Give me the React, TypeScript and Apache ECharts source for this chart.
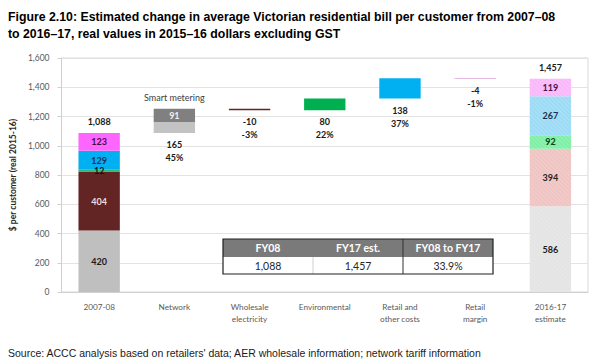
import React, { useEffect, useRef } from 'react';
import * as echarts from 'echarts';

const categories = ['2007-08', 'Network', 'Wholesale\nelectricity', 'Environmental', 'Retail and\nother costs', 'Retail\nmargin', '2016-17\nestimate'];
const baseValues = [0, 1088, 1243, 1243, 1323, 1457, 0];
const networkValues = [420, 74, null, null, null, null, 586];
const smartMeteringValues = [null, 91, null, null, null, null, null];
const wholesaleValues = [404, null, 10, null, null, null, 394];
const environmentalValues = [12, null, null, 80, null, null, 92];
const retailValues = [129, null, null, null, 138, null, 267];
const marginValues = [123, null, null, null, null, 4, 119];
const changeLabels = ['', '165', '-10', '80', '138', '-4', ''];
const changeShares = ['', '45%', '-3%', '22%', '37%', '-1%', ''];
const topLabels = ['1,088', 'Smart metering', '', '', '', '', '1,457'];
const tableHeaders = ['FY08', 'FY17 est.', 'FY08 to FY17'];
const tableValues = ['1,088', '1,457', '33.9%'];

const titleText = 'Figure 2.10: Estimated change in average Victorian residential bill per customer from 2007\u201308\nto 2016\u201317, real values in 2015\u201316 dollars excluding GST';
const sourceText = "Source: ACCC analysis based on retailers' data; AER wholesale information; network tariff information";

const LABEL_FONT = 'Lato, "Open Sans", sans-serif';

const hatch = {
  symbol: 'rect',
  symbolSize: 1,
  dashArrayX: [1, 0],
  dashArrayY: [1, 2],
  rotation: Math.PI / 4,
  color: 'rgba(255,255,255,0.16)',
};

function segmentData(values: (number | null)[], colors: string[], labelColors: string[]) {
  return values.map((v, i) => {
    if (v === null) return '-';
    return {
      value: v,
      itemStyle: i === 6 ? { color: colors[i], decal: hatch } : { color: colors[i] },
      label: {
        show: i === 0 || i === 6,
        position: 'inside',
        color: labelColors[i],
        fontFamily: LABEL_FONT,
        fontWeight: 'bold',
        fontSize: 9,
      },
    };
  });
}

export default function App() {
  const ref = useRef<HTMLDivElement>(null);
  useEffect(() => {
    if (!ref.current) return;
    const chart = echarts.init(ref.current, null, { renderer: 'svg' });
    const stackName = 'w';
    const barCommon = { type: 'bar', stack: stackName, barCategoryGap: '45%' };

    const tx = 223, ty = 239, cw = 90, h1 = 18, h2 = 17;
    const tableEls: any[] = [
      { type: 'rect', z: 100, shape: { x: tx, y: ty, width: cw * 3, height: h1 }, style: { fill: '#7a7a7a' } },
      { type: 'rect', z: 100, shape: { x: tx, y: ty + h1, width: cw * 3, height: h2 }, style: { fill: '#ffffff' } },
      { type: 'line', z: 101, shape: { x1: tx + cw, y1: ty + h1, x2: tx + cw, y2: ty + h1 + h2 }, style: { stroke: '#d0d0d0', lineWidth: 1 } },
      { type: 'line', z: 101, shape: { x1: tx + 2 * cw, y1: ty, x2: tx + 2 * cw, y2: ty + h1 + h2 }, style: { stroke: '#303030', lineWidth: 1 } },
      { type: 'rect', z: 102, shape: { x: tx, y: ty, width: cw * 3, height: h1 + h2 }, style: { fill: 'none', stroke: '#202020', lineWidth: 1.2 } },
    ];
    tableHeaders.forEach((t, i) => {
      tableEls.push({ type: 'text', z: 103, x: tx + cw * i + cw / 2, y: ty + h1 / 2, style: { text: t, fill: '#ffffff', font: 'bold 10.5px ' + LABEL_FONT, align: 'center', verticalAlign: 'middle' } });
    });
    tableValues.forEach((t, i) => {
      tableEls.push({ type: 'text', z: 103, x: tx + cw * i + cw / 2, y: ty + h1 + h2 / 2 + 0.5, style: { text: t, fill: '#262626', font: '10.5px ' + LABEL_FONT, align: 'center', verticalAlign: 'middle' } });
    });

    chart.setOption({
      animation: false,
      backgroundColor: '#ffffff',
      title: [
        { text: titleText, left: 3, top: 3, textStyle: { fontFamily: '"Liberation Sans", Arial, sans-serif', fontWeight: 'bold', fontSize: 12.3, lineHeight: 17, color: '#000000' } },
        { text: sourceText, left: 3, top: 342, textStyle: { fontFamily: '"Liberation Sans", Arial, sans-serif', fontWeight: 'normal', fontSize: 10.5, color: '#1a1a1a' } },
      ],
      grid: { left: 61, right: 12, top: 58, bottom: 71, show: true, borderColor: '#d9d9d9', borderWidth: 1 },
      xAxis: {
        type: 'category',
        data: categories,
        axisLine: { show: true, lineStyle: { color: '#d0d0d0' } },
        axisTick: { show: false },
        axisLabel: { color: '#595959', fontFamily: LABEL_FONT, fontSize: 8.2, lineHeight: 12, margin: 9 },
      },
      yAxis: {
        type: 'value',
        min: 0,
        max: 1600,
        interval: 200,
        name: '$ per customer (real 2015-16)',
        nameLocation: 'middle',
        nameGap: 31,
        nameTextStyle: { color: '#262626', fontFamily: LABEL_FONT, fontWeight: 'bold', fontSize: 8.5 },
        axisLine: { show: true, lineStyle: { color: '#d0d0d0' } },
        axisTick: { show: true, length: 4, lineStyle: { color: '#d0d0d0' } },
        axisLabel: { color: '#595959', fontFamily: LABEL_FONT, fontSize: 8.5, margin: 12, formatter: (v: number) => v.toLocaleString('en-US') },
        splitLine: { lineStyle: { color: '#e3e3e3' } },
      },
      series: [
        {
          ...barCommon,
          name: 'base',
          itemStyle: { color: 'rgba(0,0,0,0)' },
          data: baseValues,
          label: {
            show: true,
            position: 'insideTop',
            distance: 5,
            color: '#1a1a1a',
            fontFamily: LABEL_FONT,
            fontWeight: 'bold',
            fontSize: 9,
            lineHeight: 13,
            formatter: (p: any) => (changeLabels[p.dataIndex] ? changeLabels[p.dataIndex] + '\n' + changeShares[p.dataIndex] : ''),
          },
        },
        {
          ...barCommon,
          name: 'Network',
          data: segmentData(networkValues, ['#bfbfbf', '#c3c3c3', '', '', '', '', '#e4e4e4'], ['#1a1a1a', '', '', '', '', '', '#1a1a1a']),
        },
        {
          ...barCommon,
          name: 'Smart metering',
          data: smartMeteringValues.map((v) => (v === null ? '-' : { value: v, itemStyle: { color: '#808080' }, label: { show: true, position: 'inside', color: '#f2f2f2', fontFamily: LABEL_FONT, fontWeight: 'bold', fontSize: 9 } })),
        },
        {
          ...barCommon,
          name: 'Wholesale',
          data: segmentData(wholesaleValues, ['#632523', '', '#632523', '', '', '', '#efc4c2'], ['#f2dcdb', '', '', '', '', '', '#262626']),
        },
        {
          ...barCommon,
          name: 'Environmental',
          data: segmentData(environmentalValues, ['#2fb87a', '', '', '#00b050', '', '', '#7ef0a6'], ['#111111', '', '', '', '', '', '#0f3d1f']),
        },
        {
          ...barCommon,
          name: 'Retail',
          data: segmentData(retailValues, ['#00b0f0', '', '', '', '#00b0f0', '', '#9cdbf5'], ['#1f2f5f', '', '', '', '', '', '#1f2f4f']),
        },
        {
          ...barCommon,
          name: 'Margin',
          data: segmentData(marginValues, ['#ff66ff', '', '', '', '', '#dda0dd', '#f9b8f9'], ['#3b1050', '', '', '', '', '', '#4a1050']),
        },
        {
          ...barCommon,
          name: 'totals',
          data: [0, 0, '-', '-', '-', '-', 0].map((v, i) =>
            v === '-'
              ? '-'
              : {
                  value: v,
                  label: i === 1
                    ? { fontWeight: 'normal', color: '#404040', fontSize: 9 }
                    : { fontWeight: 'bold', color: '#1a1a1a', fontSize: 9 },
                }
          ),
          itemStyle: { color: 'rgba(0,0,0,0)' },
          label: {
            show: true,
            position: 'top',
            distance: 7,
            fontFamily: LABEL_FONT,
            fontSize: 9,
            formatter: (p: any) => topLabels[p.dataIndex],
            color: '#1a1a1a',
          },
        },
      ],
      graphic: tableEls,
    });
    return () => chart.dispose();
  }, []);
  return <div ref={ref} style={{ position: 'fixed', left: 0, top: 0, width: 600, height: 363 }} />;
}
